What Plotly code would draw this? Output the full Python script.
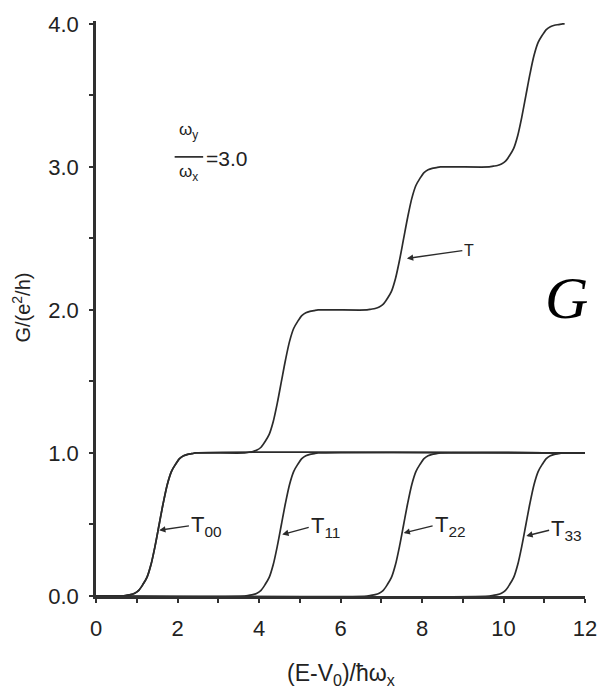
import plotly.graph_objects as go

# Threshold energies (E - V0)/(hbar*omega_x) of the transverse channels n = 0..3
thresholds = [1.55, 4.55, 7.55, 10.55]
channel_labels = ["T<sub>00</sub>", "T<sub>11</sub>", "T<sub>22</sub>", "T<sub>33</sub>"]

# Shape of one conductance step: offset from its threshold and transmission
step_offsets = [-0.9, -0.8, -0.7, -0.6, -0.5, -0.4, -0.3, -0.2, -0.1, 0.0,
                0.1, 0.2, 0.3, 0.4, 0.5, 0.6, 0.7, 0.8, 0.9]
step_heights = [0.0, 0.005, 0.01, 0.02, 0.04, 0.08, 0.13, 0.22, 0.35, 0.5,
                0.65, 0.78, 0.87, 0.92, 0.96, 0.98, 0.99, 0.995, 1.0]

x_start, x_end = 0.0, 12.0
total_end_x, total_end_y = 11.5, 4.0

x_ticks = [0, 2, 4, 6, 8, 10, 12]
y_ticks = [0.0, 1.0, 2.0, 3.0, 4.0]

LINE = "#2b2b2b"
AXIS = "#303030"
FONT = "Liberation Sans, Arial, sans-serif"

fig = go.Figure()

# Individual channel transmissions T_nn
for t in thresholds:
    xs = [x_start] + [t + d for d in step_offsets] + [x_end]
    ys = [0.0] + list(step_heights) + [1.0]
    fig.add_trace(go.Scatter(x=xs, y=ys, mode="lines",
                             line=dict(color=LINE, width=1.7, shape="spline", smoothing=0.8),
                             showlegend=False, hoverinfo="skip"))

# Total transmission T: one step per open channel
tx, ty = [x_start], [0.0]
for k, t in enumerate(thresholds):
    tx += [t + d for d in step_offsets]
    ty += [k + h for h in step_heights]
tx.append(total_end_x)
ty.append(total_end_y)
fig.add_trace(go.Scatter(x=tx, y=ty, mode="lines",
                         line=dict(color=LINE, width=1.7, shape="spline", smoothing=0.8),
                         showlegend=False, hoverinfo="skip"))

annotations = []

# Curve labels with pointer arrows: (label, arrow head x, head y, label x, label y, size)
pointers = [
    (channel_labels[0], 1.55, 0.46, 2.28, 0.49, 22),
    (channel_labels[1], 4.57, 0.43, 5.22, 0.48, 22),
    (channel_labels[2], 7.55, 0.44, 8.26, 0.49, 22),
    (channel_labels[3], 10.56, 0.42, 11.12, 0.46, 22),
    ("T", 7.63, 2.36, 8.99, 2.415, 16),
]
for label, hx, hy, lx, ly, fs in pointers:
    annotations.append(dict(x=hx, y=hy, ax=lx, ay=ly, xref="x", yref="y",
                            axref="x", ayref="y", text=label, showarrow=True,
                            arrowhead=2, arrowsize=0.9, arrowwidth=1.4,
                            arrowcolor=LINE, xanchor="left", yanchor="middle",
                            font=dict(family=FONT, size=fs, color="#222")))

# Frequency ratio omega_y / omega_x = 3.0
annotations += [
    dict(x=2.27, y=3.25, xref="x", yref="y", text="ω<sub>y</sub>", showarrow=False,
         xanchor="center", yanchor="middle", font=dict(family=FONT, size=17, color="#222")),
    dict(x=2.27, y=2.96, xref="x", yref="y", text="ω<sub>x</sub>", showarrow=False,
         xanchor="center", yanchor="middle", font=dict(family=FONT, size=17, color="#222")),
    dict(x=2.66, y=3.06, xref="x", yref="y", text="=3.0", showarrow=False,
         xanchor="left", yanchor="middle", font=dict(family=FONT, size=21, color="#222")),
]

# Axis titles and the large G
annotations += [
    dict(x=0.501, y=-0.136, xref="paper", yref="paper",
         text="(E-V<sub>0</sub>)/ħω<sub>x</sub>", showarrow=False,
         xanchor="center", yanchor="middle", font=dict(family=FONT, size=23, color="#222")),
    dict(x=-0.152, y=0.501, xref="paper", yref="paper",
         text="G/(e<sup>2</sup>/h)", showarrow=False, textangle=-90,
         xanchor="center", yanchor="middle", font=dict(family=FONT, size=20, color="#222")),
    dict(x=0.963, y=0.518, xref="paper", yref="paper", text="<i>G</i>", showarrow=False,
         xanchor="center", yanchor="middle",
         font=dict(family="Liberation Serif, Times New Roman, serif", size=60, color="#000")),
]

fig.update_layout(
    width=609, height=689,
    margin=dict(l=96, r=16, t=15, b=93),
    paper_bgcolor="white", plot_bgcolor="white",
    annotations=annotations,
    shapes=[dict(type="line", xref="x", yref="y", x0=1.93, x1=2.63, y0=3.07, y1=3.07,
                 line=dict(color=LINE, width=1.7))],
    font=dict(family=FONT, color="#222"),
)
fig.update_xaxes(range=[0, 12], tickvals=x_ticks, ticktext=[str(v) for v in x_ticks],
                 showgrid=False, zeroline=False, showline=True, linecolor=AXIS, linewidth=2.5,
                 ticks="outside", ticklen=4, tickwidth=1.5, tickcolor=AXIS,
                 minor=dict(dtick=1, ticks="outside", ticklen=4, tickwidth=1.5, tickcolor=AXIS),
                 tickfont=dict(family=FONT, size=22, color="#222"), ticklabelstandoff=7)
fig.update_yaxes(range=[0, 4.02], tickvals=y_ticks, ticktext=[f"{v:.1f}" for v in y_ticks],
                 showgrid=False, zeroline=False, showline=True, linecolor=AXIS, linewidth=2.5,
                 ticks="outside", ticklen=4, tickwidth=1.5, tickcolor=AXIS,
                 minor=dict(dtick=0.5, ticks="outside", ticklen=4, tickwidth=1.5, tickcolor=AXIS),
                 tickfont=dict(family=FONT, size=22, color="#222"), ticklabelstandoff=6)

fig.write_html("out.html")
